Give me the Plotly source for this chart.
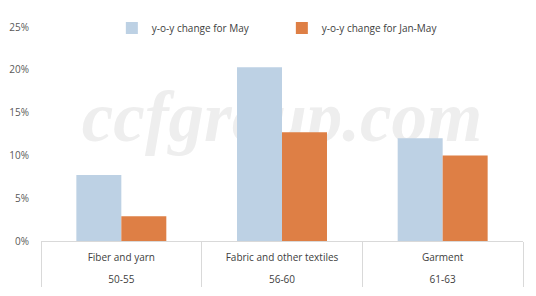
import plotly.graph_objects as go

categories = ["Fiber and yarn", "Fabric and other textiles", "Garment"]
codes = ["50-55", "56-60", "61-63"]
may_change = [7.7, 20.3, 12.0]
janmay_change = [2.9, 12.7, 10.0]
series_names = ["y-o-y change for May", "y-o-y change for Jan-May"]
y_ticks = [0, 5, 10, 15, 20, 25]
y_tick_labels = ["0%", "5%", "10%", "15%", "20%", "25%"]
watermark = "ccfgroup.com"

FONT = "Open Sans"
# outer level (codes) shown below the inner level (categories)
x_multi = [["<br>" + c for c in codes], categories]

fig = go.Figure()
# watermark on the base (lower) subplot so bars cover it
fig.add_trace(go.Scatter(x=[0.5], y=[0.55], mode="text", text=[watermark],
                         textfont=dict(family="Liberation Serif", size=71, color="#eeeeee",
                                       style="italic", weight="bold"),
                         hoverinfo="skip", showlegend=False, xaxis="x", yaxis="y"))
fig.add_trace(go.Bar(x=x_multi, y=may_change, name=series_names[0],
                     marker=dict(color="#bdd1e4", line=dict(width=0)),
                     xaxis="x2", yaxis="y2"))
fig.add_trace(go.Bar(x=x_multi, y=janmay_change, name=series_names[1],
                     marker=dict(color="#de7f45", line=dict(width=0)),
                     xaxis="x2", yaxis="y2"))

fig.update_layout(
    width=536, height=296,
    margin=dict(l=41, r=13, t=27, b=55, autoexpand=False),
    paper_bgcolor="white", plot_bgcolor="white",
    barmode="group", bargap=0.44, bargroupgap=0,
    font=dict(family=FONT, size=10, color="#404040"),
    legend=dict(orientation="h", x=0.147, xanchor="left", yref="container",
                y=1 - 28 / 296, yanchor="middle",
                font=dict(size=10, color="#404040"),
                entrywidth=125, entrywidthmode="pixels", traceorder="normal"),
    showlegend=True,
    xaxis=dict(range=[0, 1], visible=False, fixedrange=True),
    yaxis=dict(range=[0, 1], visible=False, fixedrange=True),
    xaxis2=dict(type="multicategory", overlaying="x", anchor="y2", side="bottom",
                showline=True, linecolor="#d9d9d9", linewidth=1,
                showdividers=True, dividercolor="#d9d9d9", dividerwidth=1,
                ticks="", ticklabelstandoff=7,
                tickfont=dict(size=10, color="#404040"), showgrid=False),
    yaxis2=dict(overlaying="y", anchor="x2", side="left",
                range=[0, 25], tickvals=y_ticks, ticktext=y_tick_labels,
                showgrid=False, zeroline=False, showline=False,
                ticks="outside", ticklen=9, tickcolor="rgba(0,0,0,0)",
                tickfont=dict(size=10, color="#595959")),
)
fig.write_html("out.html")
